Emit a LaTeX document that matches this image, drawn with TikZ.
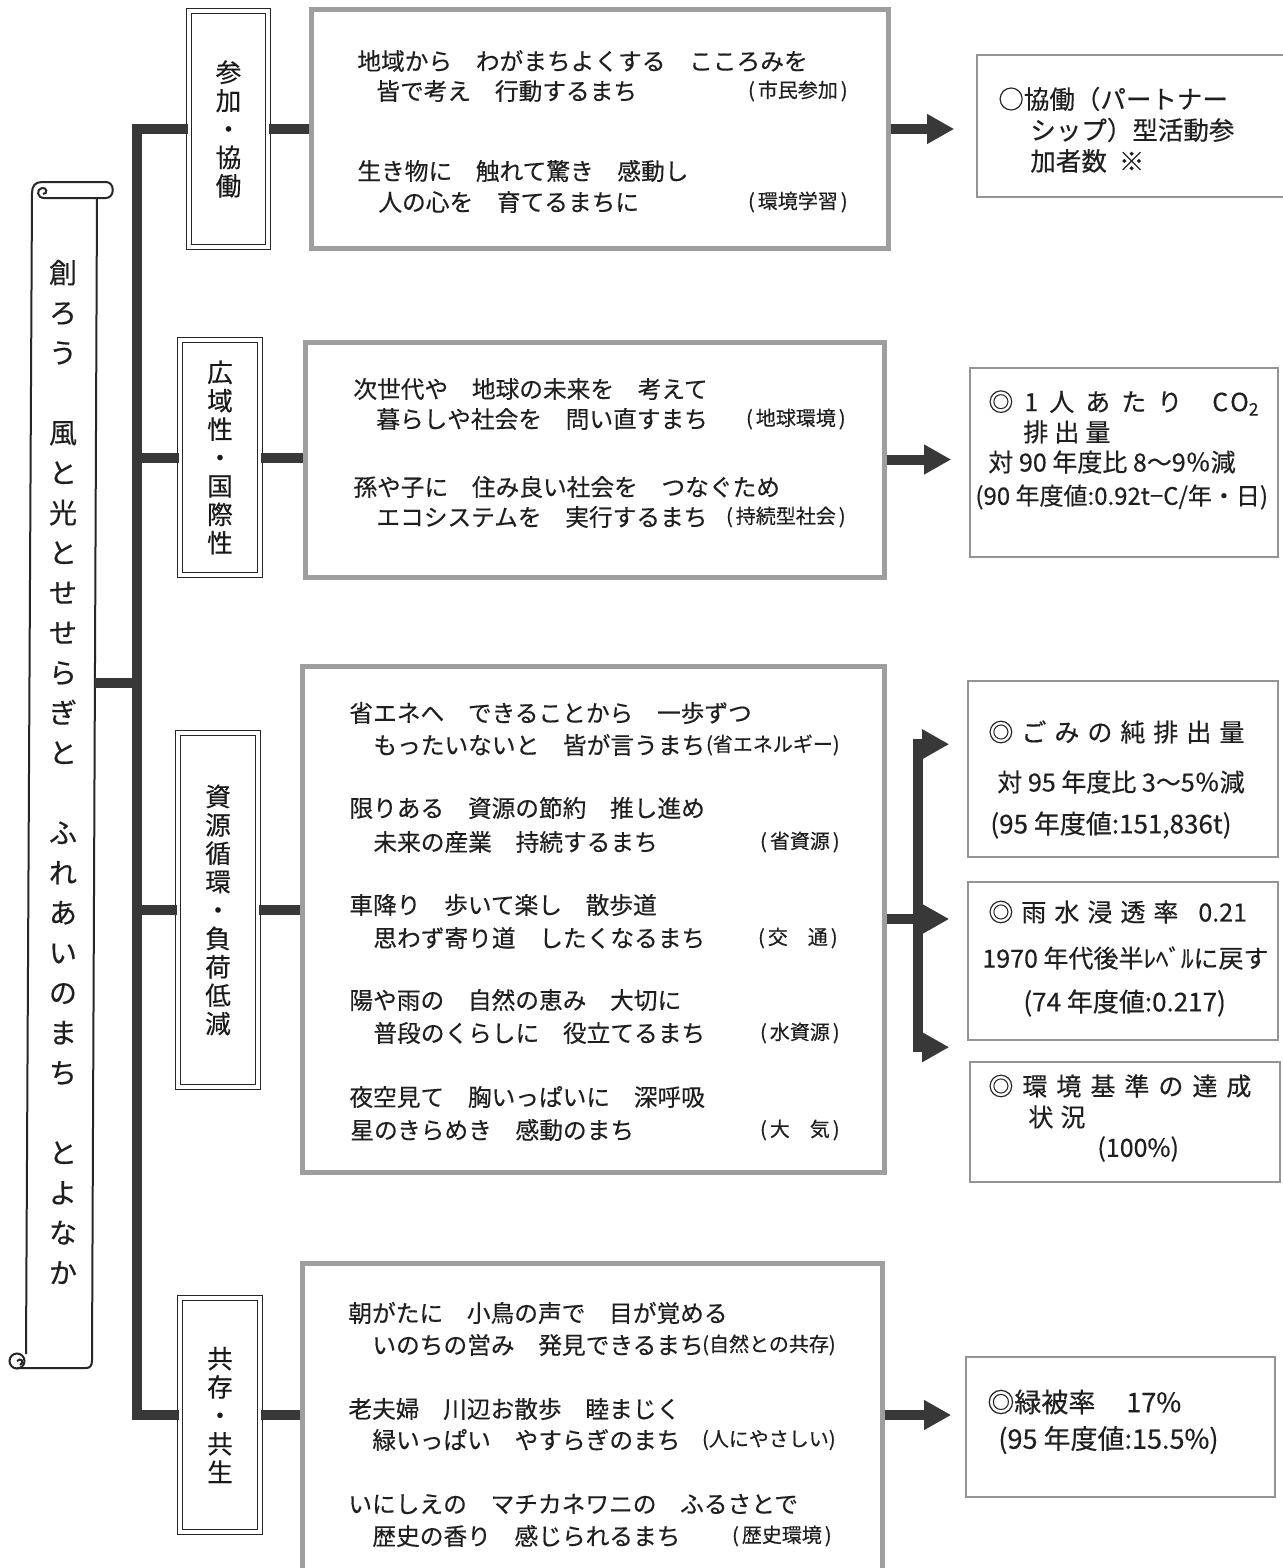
\documentclass[tikz,border=0pt]{standalone}
\usepackage{fontspec}
\setmainfont{Noto Sans CJK JP}[FakeBold=0.35]
\usetikzlibrary{arrows.meta,calc}
\newcommand\gp{\hspace{5.5pt}}
\newcommand\lb[1]{(\hspace{1.5pt}#1\hspace{1.5pt})}
\begin{document}
\begin{tikzpicture}[x=0.5pt,y=-0.5pt,
  conn/.style={draw=black!78, line width=5pt},
  arr/.style={conn, -{Triangle[length=13.5pt,width=14pt]}},
  scr/.style={draw=black!85, line width=1pt},
  catbox/.style={draw=black!85, line width=0.8pt, double=white, double distance=1.8pt, inner sep=0pt, align=center, font=\fontsize{12.8pt}{14.2pt}\selectfont, text=black!90},
  tbox/.style={draw=black!38, line width=2.5pt, inner sep=0pt},
  rbox/.style={draw=black!42, line width=0.8pt, inner sep=0pt},
  poem/.style={anchor=west, inner sep=0pt, font=\fontsize{11.85pt}{14pt}\selectfont, text=black!88},
  lab/.style={anchor=east, inner sep=0pt, font=\fontsize{10pt}{12pt}\selectfont, text=black!88},
  rt/.style={anchor=west, inner sep=0pt, font=\fontsize{12.5pt}{14pt}\selectfont, text=black!88},
  vt/.style={align=center, inner sep=0pt, font=\fontsize{14pt}{20pt}\selectfont, text=black!88}
]
\useasboundingbox[fill=white] (0,0) rectangle (1282,1568);

% ---------- scroll ----------
\draw[scr] (26,1354) -- (32,193) .. controls (32,186) and (35,182) .. (42,182) -- (106,182)
  .. controls (115,182) and (115,198) .. (106,198) -- (44,198);
\draw[scr] (44,198) .. controls (37,198) and (36,189) .. (42,188) .. controls (47,187) and (48,194) .. (43,194);
\draw[scr] (97,198) -- (92,1360) .. controls (92,1366) and (90,1368) .. (86,1368) -- (17,1368);
\draw[scr] (17,1361) circle[radius=7.5];
\draw[scr] (17,1361) .. controls (21,1357) and (25,1362) .. (20,1365);
\node[vt] (scroll) at (63,772) {創\\ろ\\う\\　\\風\\と\\光\\と\\せ\\せ\\ら\\ぎ\\と\\　\\ふ\\れ\\あ\\い\\の\\ま\\ち\\　\\と\\よ\\な\\か};
\coordinate (scrE) at (95,683);
\coordinate (tr) at (137,683);

% ---------- category boxes ----------
\node[catbox, minimum width=39.5pt, minimum height=118pt] (cat1) at (228.5,129) {参\\加\\・\\協\\働};
\node[catbox, minimum width=40pt, minimum height=117.5pt] (cat2) at (220,457.5) {広\\域\\性\\・\\国\\際\\性};
\node[catbox, minimum width=40pt, minimum height=177pt] (cat3) at (218,910) {資\\源\\循\\環\\・\\負\\荷\\低\\減};
\node[catbox, minimum width=40pt, minimum height=117pt] (cat4) at (220,1415) {共\\存\\・\\共\\生};

% ---------- text boxes ----------
\node[tbox, minimum width=288.5pt, minimum height=119pt] (t1) at (599.5,129) {};
\node[tbox, minimum width=289.5pt, minimum height=117.5pt] (t2) at (594.5,459.5) {};
\node[tbox, minimum width=291pt, minimum height=253pt] (t3) at (593,919) {};
\node[tbox, minimum width=290pt, minimum height=163.5pt] (t4) at (592,1426.5) {};

% ---------- result boxes ----------
\node[rbox, minimum width=156.5pt, minimum height=71pt] (r1) at (1133.5,126) {};
\node[rbox, minimum width=154pt, minimum height=94.5pt] (r2) at (1124,462.5) {};
\node[rbox, minimum width=155pt, minimum height=88pt] (r3) at (1123,769) {};
\node[rbox, minimum width=155pt, minimum height=79pt] (r4) at (1123,961) {};
\node[rbox, minimum width=155pt, minimum height=60pt] (r5) at (1125,1122) {};
\node[rbox, minimum width=154.5pt, minimum height=70pt] (r6) at (1120.5,1427) {};

% ---------- connectors ----------
\draw[conn] (cat1.west) -- (cat1.west -| tr) -- (cat4.west -| tr) -- (cat4.west);
\draw[conn] (cat2.west) -- (cat2.west -| tr);
\draw[conn] (cat3.west) -- (cat3.west -| tr);
\draw[conn] (scrE) -- (tr);
\draw[conn] (cat1.east) -- (cat1.east -| t1.west);
\draw[conn] (cat2.east) -- (cat2.east -| t2.west);
\draw[conn] (cat3.east) -- (cat3.east -| t3.west);
\draw[conn] (cat4.east) -- (cat4.east -| t4.west);

\draw[arr] (t1.east) -- ($(r1.west |- t1.east)+(-22,0)$);
\draw[arr] (t2.east) -- ($(r2.west |- t2.east)+(-18,0)$);
\coordinate (br) at (918,919);
\coordinate (a3) at ($(r3.north west)+(-18,64)$);
\coordinate (a5) at ($(r5.north west)+(-20,-14)$);
\draw[arr] (t3.east) -- ($(r4.west |- t3.east)+(-18,0)$);
\draw[conn, {Triangle[length=13.5pt,width=14pt]}-{Triangle[length=13.5pt,width=14pt]}] (a3) -- (br |- a3) -- (br |- a5) -- (a5);
\draw[arr] (t4.east |- cat4.east) -- ($(r6.west |- cat4.east)+(-14,0)$);

% ---------- poem texts ----------
\node[poem] (p11) at (357,61) {地域から　わがまちよくする　こころみを};
\node[poem] (p12) at (376,91) {皆で考え　行動するまち};
\node[lab] (l12) at (848,91) {\lb{市民参加}};
\node[poem] (p13) at (357,171) {生き物に　触れて驚き　感動し};
\node[poem] (p14) at (378,202) {人の心を　育てるまちに};
\node[lab] (l14) at (848,202) {\lb{環境学習}};

\node[poem] (p21) at (353,389) {次世代や　地球の未来を　考えて};
\node[poem] (p22) at (376,419) {暮らしや社会を　問い直すまち};
\node[lab] (l22) at (846,419) {\lb{地球環境}};
\node[poem] (p23) at (353,487) {孫や子に　住み良い社会を　つなぐため};
\node[poem] (p24) at (376,517) {エコシステムを　実行するまち};
\node[lab] (l24) at (846,517) {\lb{持続型社会}};

\node[poem] (p31) at (349,713) {省エネへ　できることから　一歩ずつ};
\node[poem] (p32) at (373,745) {もったいないと　皆が言うまち};
\node[lab] (l32) at (840,745) {(省エネルギー)};
\node[poem] (p33) at (349,808) {限りある　資源の節約　推し進め};
\node[poem] (p34) at (373,842) {未来の産業　持続するまち};
\node[lab] (l34) at (840,842) {\lb{省資源}};
\node[poem] (p35) at (349,905) {車降り　歩いて楽し　散歩道};
\node[poem] (p36) at (373,938) {思わず寄り道　したくなるまち};
\node[lab] (l36) at (838,938) {\lb{交　通}};
\node[poem] (p37) at (349,1000) {陽や雨の　自然の恵み　大切に};
\node[poem] (p38) at (373,1033) {普段のくらしに　役立てるまち};
\node[lab] (l38) at (840,1033) {\lb{水資源}};
\node[poem] (p39) at (349,1097) {夜空見て　胸いっぱいに　深呼吸};
\node[poem] (p3a) at (350,1130) {星のきらめき　感動のまち};
\node[lab] (l3a) at (840,1130) {\lb{大　気}};

\node[poem] (p41) at (348,1313) {朝がたに　小鳥の声で　目が覚める};
\node[poem] (p42) at (372,1345) {いのちの営み　発見できるまち};
\node[lab] (l42) at (836,1345) {(自然との共存)};
\node[poem] (p43) at (348,1409) {老夫婦　川辺お散歩　睦まじく};
\node[poem] (p44) at (372,1440) {緑いっぱい　やすらぎのまち};
\node[lab] (l44) at (836,1440) {(人にやさしい)};
\node[poem] (p45) at (348,1504) {いにしえの　マチカネワニの　ふるさとで};
\node[poem] (p46) at (372,1536) {歴史の香り　感じられるまち};
\node[lab] (l46) at (832,1536) {\lb{歴史環境}};

% ---------- result texts ----------
\node[rt, font=\fontsize{12.75pt}{14pt}\selectfont] (q11) at (998,99) {○協働（パートナー};
\node[rt, font=\fontsize{12.75pt}{14pt}\selectfont] (q12) at (1030,130) {シップ）型活動参};
\node[rt, font=\fontsize{12.75pt}{14pt}\selectfont] (q13) at (1030,161) {加者数\hspace{6pt}※};

\node[rt] (q21) at (988,403) {◎\gp 1\gp 人\gp あ\gp た\gp り\hspace{15pt}C\hspace{1pt}O\textsubscript{2}};
\node[rt] (q22) at (1023,432) {排\hspace{3pt}出\hspace{3pt}量};
\node[rt] (q23) at (988,462) {対 90 年度比 8～9％減};
\node[rt, font=\fontsize{12pt}{14pt}\selectfont] (q24) at (975,497) {(90 年度値:0.92t−C/年・日)};

\node[rt] (q31) at (988,732) {◎\hspace{4pt}ご\hspace{4pt}み\hspace{4pt}の\hspace{4pt}純\hspace{4pt}排\hspace{4pt}出\hspace{4pt}量};
\node[rt] (q32) at (997,782) {対 95 年度比 3～5％減};
\node[rt, font=\fontsize{13pt}{14pt}\selectfont] (q33) at (990,825) {(95 年度値:151,836t)};

\node[rt] (q41) at (988,912) {◎\hspace{4pt}雨\hspace{4pt}水\hspace{4pt}浸\hspace{4pt}透\hspace{4pt}率\hspace{10pt}0.21};
\node[rt] (q42) at (982,958) {1970 年代後半ﾚﾍﾞﾙに戻す};
\node[rt, font=\fontsize{13pt}{14pt}\selectfont] (q43) at (1023,1003) {(74 年度値:0.217)};

\node[rt] (q51) at (988,1086) {◎\hspace{4.5pt}環\hspace{4.5pt}境\hspace{4.5pt}基\hspace{4.5pt}準\hspace{4.5pt}の\hspace{4.5pt}達\hspace{4.5pt}成};
\node[rt] (q52) at (1028,1117) {状\hspace{3.5pt}況};
\node[rt] (q53) at (1097,1149) {(100\%)};

\node[rt, font=\fontsize{13.5pt}{15pt}\selectfont] (q61) at (987,1402) {◎緑被率\hspace{15.5pt}17\%};
\node[rt, font=\fontsize{13.5pt}{15pt}\selectfont] (q62) at (998,1440) {(95 年度値:15.5\%)};
\end{tikzpicture}
\end{document}
